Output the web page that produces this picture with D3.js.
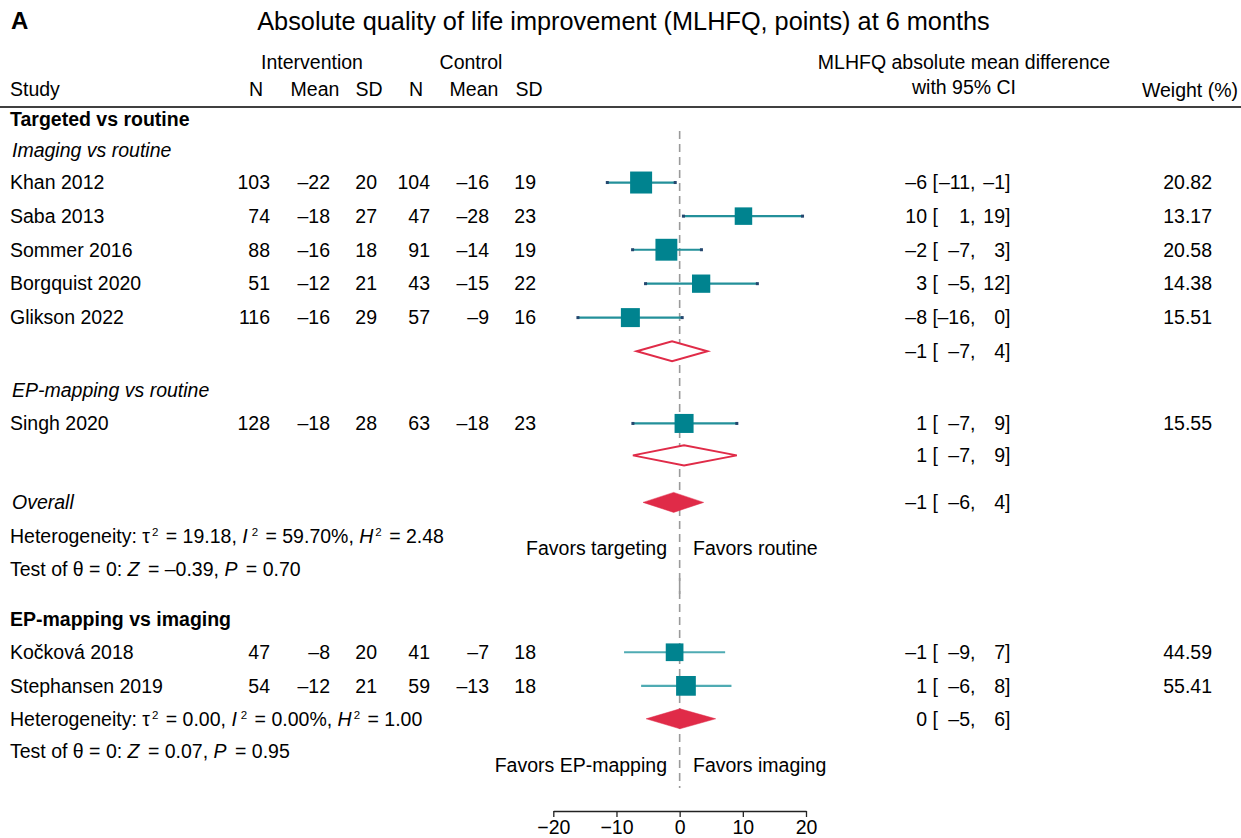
<!DOCTYPE html>
<html>
<head>
<meta charset="utf-8">
<script src="https://cdn.jsdelivr.net/npm/d3@7"></script>
<style>
  html, body { margin: 0; padding: 0; background: #fff; }
  svg { display: block; }
  text { font-family: "Liberation Sans", Arial, Helvetica, sans-serif; fill: #000; }
</style>
</head>
<body>
<div id="chart"></div>
<script>
// ---------------- DATA ----------------
// Targeted vs routine: imaging vs routine subgroup
const imgStudies = ["Khan 2012", "Saba 2013", "Sommer 2016", "Borgquist 2020", "Glikson 2022"];
const imgN1    = [103, 74, 88, 51, 116];
const imgMean1 = [-22, -18, -16, -12, -16];
const imgSD1   = [20, 27, 18, 21, 29];
const imgN2    = [104, 47, 91, 43, 57];
const imgMean2 = [-16, -28, -14, -15, -9];
const imgSD2   = [19, 23, 19, 22, 16];
const imgEst   = [-6.1, 10.1, -2.1, 3.4, -7.8];
const imgLo    = [-11.45, 0.6, -7.45, -5.4, -16.1];
const imgHi    = [-0.7, 19.45, 3.45, 12.3, 0.4];
const imgWeight = [20.82, 13.17, 20.58, 14.38, 15.51];
const imgPooled = [-1.2, -6.8, 4.4];           // est, lo, hi

// Targeted vs routine: EP-mapping vs routine subgroup
const epStudies = ["Singh 2020"];
const epN1 = [128], epMean1 = [-18], epSD1 = [28];
const epN2 = [63],  epMean2 = [-18], epSD2 = [23];
const epEst = [0.7], epLo = [-7.4], epHi = [9.05];
const epWeight = [15.55];
const epPooled = [0.7, -7.4, 9.05];

const overallPooled = [-0.95, -5.8, 3.8];

// EP-mapping vs imaging
const cmpStudies = ["Kočková 2018", "Stephansen 2019"];
const cmpN1 = [47, 54], cmpMean1 = [-8, -12], cmpSD1 = [20, 21];
const cmpN2 = [41, 59], cmpMean2 = [-7, -13], cmpSD2 = [18, 18];
const cmpEst = [-0.8, 1.0], cmpLo = [-8.8, -6.1], cmpHi = [7.2, 8.2];
const cmpWeight = [44.59, 55.41];
const cmpPooled = [0.05, -5.3, 5.7];

// Heterogeneity / tests [targeted vs routine, EP-mapping vs imaging]
const hetTau2 = [19.18, 0.00];
const hetI2   = [59.70, 0.00];
const hetH2   = [2.48, 1.00];
const testZ   = [-0.39, 0.07];
const testP   = [0.70, 0.95];

const axisTicks = [-20, -10, 0, 10, 20];
const favorsLeft  = ["Favors targeting", "Favors EP-mapping"];
const favorsRight = ["Favors routine", "Favors imaging"];

// ---------------- LAYOUT ----------------
const W = 1241, H = 838;
const FS = 19.5;
const TEAL = "#00838f", CI1 = "#23909a", CI2 = "#4fabb3", CAP = "#24476f", RED = "#e02b48", GRID = "#9a9a9a";

const svg = d3.select("#chart").append("svg").attr("width", W).attr("height", H);

const x = d3.scaleLinear().domain([-20, 20]).range([553.3, 806]);
const row = d3.scaleLinear().domain([0, 1]).range([116, 149.6]);
const sizeA = d3.scaleSqrt().domain([0, 100]).range([0, 48.2]);
const sizeB = d3.scaleSqrt().domain([0, 100]).range([0, 26.5]);

const dash = s => (s < 0 ? "\u2013" + Math.abs(s) : String(s));
const fmtInt = v => { const r = Math.round(v); return r < 0 ? "\u2013" + Math.abs(r) : String(r === 0 ? 0 : r); };
const fmt2 = v => (v < 0 ? "\u2013" + Math.abs(v).toFixed(2) : v.toFixed(2));

function txt(xp, yp, s, opts = {}) {
  const t = svg.append("text").attr("x", xp).attr("y", yp).attr("dy", "0.35em")
    .attr("font-size", opts.size || FS)
    .attr("text-anchor", opts.anchor || "start")
    .text(s);
  if (opts.bold) t.attr("font-weight", "bold");
  if (opts.italic) t.attr("font-style", "italic");
  return t;
}

// Title & headers
txt(11, 21, "A", { size: 24, bold: true });
txt(623.5, 21, "Absolute quality of life improvement (MLHFQ, points) at 6 months", { size: 25.3, anchor: "middle" });
txt(312, 62, "Intervention", { anchor: "middle" });
txt(471, 62, "Control", { anchor: "middle" });
txt(10, 89, "Study");
[["N", 256], ["Mean", 315], ["SD", 369], ["N", 416], ["Mean", 474], ["SD", 529]]
  .forEach(([s, xp]) => txt(xp, 89, s, { anchor: "middle" }));
txt(964, 62, "MLHFQ absolute mean difference", { anchor: "middle" });
txt(964, 87, "with 95% CI", { anchor: "middle" });
txt(1238, 90, "Weight (%)", { anchor: "end" });
svg.append("line").attr("x1", 0).attr("x2", W).attr("y1", 107).attr("y2", 107)
  .attr("stroke", "#000").attr("stroke-width", 1.6);

// Reference (null effect) lines — one per panel
svg.append("line").attr("x1", x(0)).attr("x2", x(0)).attr("y1", 131).attr("y2", 597)
  .attr("stroke", GRID).attr("stroke-width", 1.6).attr("stroke-dasharray", "8,5");
svg.append("line").attr("x1", x(0)).attr("x2", x(0)).attr("y1", 578).attr("y2", 788)
  .attr("stroke", GRID).attr("stroke-width", 1.6).attr("stroke-dasharray", "8,5");

const numCols = [270, 330, 377, 430, 489, 536];

function effectText(yp, est, lo, hi) {
  txt(927, yp, fmtInt(est), { anchor: "end" });
  txt(932.5, yp, "[");
  txt(970, yp, fmtInt(lo), { anchor: "end" });
  txt(970, yp, ",");
  txt(1005, yp, fmtInt(hi), { anchor: "end" });
  txt(1005, yp, "]");
}

function studyRows(slots, names, n1, m1, s1, n2, m2, s2, est, lo, hi, wt, sizeScale, ciColor, caps) {
  names.forEach((name, i) => {
    const yp = row(slots[i]);
    txt(10, yp, name);
    [n1[i], m1[i], s1[i], n2[i], m2[i], s2[i]].forEach((v, j) => txt(numCols[j], yp, dash(v), { anchor: "end" }));
    svg.append("line").attr("x1", x(lo[i])).attr("x2", x(hi[i])).attr("y1", yp).attr("y2", yp)
      .attr("stroke", ciColor).attr("stroke-width", 2.2);
    if (caps) {
      [lo[i], hi[i]].forEach(v => svg.append("rect").attr("x", x(v) - 1.5).attr("y", yp - 1.5)
        .attr("width", 3).attr("height", 3).attr("fill", CAP));
    }
    const s = sizeScale(wt[i]);
    svg.append("rect").attr("x", x(est[i]) - s / 2).attr("y", yp - s / 2)
      .attr("width", s).attr("height", s).attr("fill", TEAL);
    effectText(yp, est[i], lo[i], hi[i]);
    txt(1212, yp, wt[i].toFixed(2), { anchor: "end" });
  });
}

function diamond(yp, p, filled, hh = 10) {
  const pts = [[x(p[1]), yp], [x(p[0]), yp - hh], [x(p[2]), yp], [x(p[0]), yp + hh]];
  svg.append("path").attr("d", d3.line()(pts) + "Z")
    .attr("fill", filled ? RED : "#fff")
    .attr("stroke", RED).attr("stroke-width", filled ? 0.5 : 2)
    .attr("stroke-linejoin", "miter");
  effectText(yp, p[0], p[1], p[2]);
}

function sup(t) {
  t.append("tspan").attr("font-size", 11.5).attr("dx", 2).attr("dy", -7).text("2");
}
function hetText(yp, k) {
  const t = svg.append("text").attr("x", 10).attr("y", yp).attr("dy", "0.35em").attr("font-size", FS);
  t.append("tspan").text("Heterogeneity: \u03C4");
  sup(t);
  t.append("tspan").attr("dx", 2).attr("dy", 7).text(" = " + fmt2(hetTau2[k]) + ", ");
  t.append("tspan").attr("font-style", "italic").text("I");
  t.append("tspan").attr("font-size", 11.5).attr("dx", 4).attr("dy", -7).text("2");
  t.append("tspan").attr("dx", 2).attr("dy", 7).text(" = " + fmt2(hetI2[k]) + "%, ");
  t.append("tspan").attr("font-style", "italic").text("H");
  sup(t);
  t.append("tspan").attr("dx", 2).attr("dy", 7).text(" = " + fmt2(hetH2[k]));
}
function testText(yp, k) {
  const t = svg.append("text").attr("x", 10).attr("y", yp).attr("dy", "0.35em").attr("font-size", FS);
  t.append("tspan").text("Test of \u03B8 = 0: ");
  t.append("tspan").attr("font-style", "italic").text("Z");
  t.append("tspan").attr("dx", 3).text(" = " + fmt2(testZ[k]) + ", ");
  t.append("tspan").attr("font-style", "italic").text("P");
  t.append("tspan").attr("dx", 3).text(" = " + fmt2(testP[k]));
}
function favors(yp, k) {
  txt(667, yp, favorsLeft[k], { anchor: "end" });
  txt(693, yp, favorsRight[k]);
}

// ---- Panel 1: Targeted vs routine ----
txt(10, row(0.08), "Targeted vs routine", { bold: true });
txt(12, row(1.02), "Imaging vs routine", { italic: true });
studyRows([1.98, 2.98, 3.98, 4.99, 6], imgStudies, imgN1, imgMean1, imgSD1, imgN2, imgMean2, imgSD2,
  imgEst, imgLo, imgHi, imgWeight, sizeA, CI1, true);
diamond(row(7), imgPooled, false);
txt(12, row(8.15), "EP-mapping vs routine", { italic: true });
studyRows([9.15], epStudies, epN1, epMean1, epSD1, epN2, epMean2, epSD2,
  epEst, epLo, epHi, epWeight, sizeA, CI1, true);
diamond(row(10.1), epPooled, false);
txt(12, row(11.5), "Overall", { italic: true });
diamond(row(11.5), overallPooled, true);
hetText(row(12.5), 0);
testText(row(13.48), 0);
favors(row(12.86), 0);

// ---- Panel 2: EP-mapping vs imaging ----
txt(10, row(14.97), "EP-mapping vs imaging", { bold: true });
studyRows([15.96, 16.96], cmpStudies, cmpN1, cmpMean1, cmpSD1, cmpN2, cmpMean2, cmpSD2,
  cmpEst, cmpLo, cmpHi, cmpWeight, sizeB, CI2, false);
diamond(row(17.94), cmpPooled, true);
hetText(row(17.94), 1);
testText(row(18.9), 1);
favors(row(19.32), 1);

// ---- Axis ----
const axis = d3.axisBottom(x).tickValues(axisTicks).tickSize(6).tickSizeOuter(0)
  .tickFormat(d => d < 0 ? "\u2212" + Math.abs(d) : String(d));
const ag = svg.append("g").attr("transform", "translate(0,811)").call(axis);
ag.selectAll("path, line").attr("stroke", "#222").attr("stroke-width", 1.3);
ag.selectAll("text").attr("font-size", FS).attr("fill", "#000")
  .attr("font-family", "'Liberation Sans', Arial, sans-serif");
</script>
</body>
</html>
